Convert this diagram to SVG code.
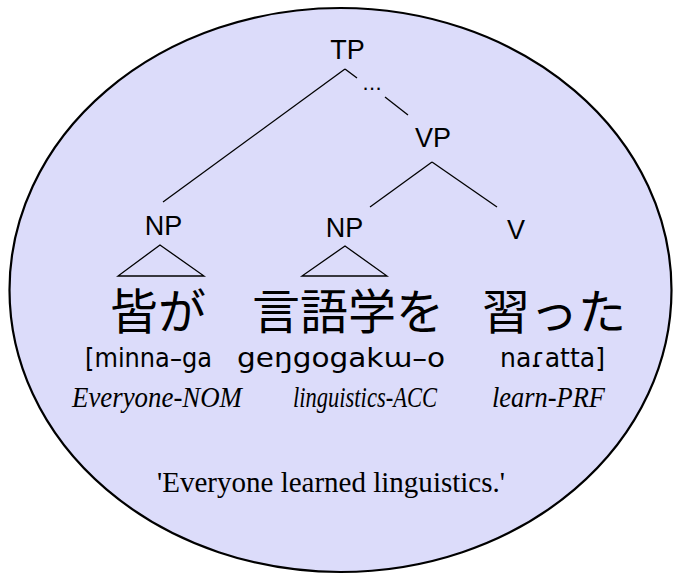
<svg xmlns="http://www.w3.org/2000/svg" width="673" height="576" viewBox="0 0 673 576">
<style>
.lbl{font-family:"Liberation Sans",Arial,sans-serif;font-size:27px;fill:#000;text-anchor:middle}
.jp{font-family:"Noto Sans CJK JP","Noto Sans CJK SC",sans-serif;font-size:48px;fill:#000;text-anchor:middle}
.ipa{font-family:"DejaVu Sans","Noto Sans",sans-serif;font-size:27px;fill:#000}
.gl{font-family:"Liberation Serif","Times New Roman",serif;font-style:italic;font-size:29px;fill:#000}
.tr{font-family:"Liberation Serif","Times New Roman",serif;font-size:30px;fill:#000}
.ln{stroke:#000;stroke-width:1.3;fill:none}
</style>
<ellipse id="bubble" cx="340.5" cy="290" rx="331" ry="282" fill="#dcdcfa" stroke="#000" stroke-width="2.2"/>
<g id="connectors">
<line class="ln" x1="345" y1="69" x2="163" y2="202"/>
<line class="ln" x1="345" y1="69" x2="357" y2="78"/>
<line class="ln" x1="385" y1="97" x2="408" y2="115"/>
<line class="ln" x1="432" y1="162" x2="370" y2="207"/>
<line class="ln" x1="432" y1="162" x2="497" y2="207"/>
<polygon class="ln" points="160,245 118,276 204,276"/>
<polygon class="ln" points="345,246 302,276 387,276"/>
</g>
<g id="TP"><text class="lbl" x="347.5" y="59">TP</text></g>
<g id="ellipsis"><text class="lbl" x="372" y="90" style="font-size:22px" textLength="19" lengthAdjust="spacing">...</text></g>
<g id="VP"><text class="lbl" x="433" y="147">VP</text></g>
<g id="NP1"><text class="lbl" x="163.5" y="235">NP</text></g>
<g id="NP2"><text class="lbl" x="344.5" y="237">NP</text></g>
<g id="V"><text class="lbl" x="516" y="239">V</text></g>
<g id="word1">
<text class="jp" x="158" y="329">皆が</text>
<text class="ipa" x="85" y="367" textLength="127" lengthAdjust="spacingAndGlyphs">[minna–ga</text>
<text class="gl" x="72" y="407" textLength="170" lengthAdjust="spacingAndGlyphs">Everyone-NOM</text>
</g>
<g id="word2">
<text class="jp" x="348" y="329">言語学を</text>
<text class="ipa" x="237" y="367" textLength="208" lengthAdjust="spacingAndGlyphs">geŋgogakɯ–o</text>
<text class="gl" x="293" y="407" textLength="144" lengthAdjust="spacingAndGlyphs">linguistics-ACC</text>
</g>
<g id="word3">
<text class="jp" x="554" y="329">習った</text>
<text class="ipa" x="500" y="367" textLength="105" lengthAdjust="spacingAndGlyphs">naɾatta]</text>
<text class="gl" x="492" y="407" textLength="113" lengthAdjust="spacingAndGlyphs">learn-PRF</text>
</g>
<g id="translation"><text class="tr" x="157" y="492" textLength="348" lengthAdjust="spacingAndGlyphs">'Everyone learned linguistics.'</text></g>
</svg>
